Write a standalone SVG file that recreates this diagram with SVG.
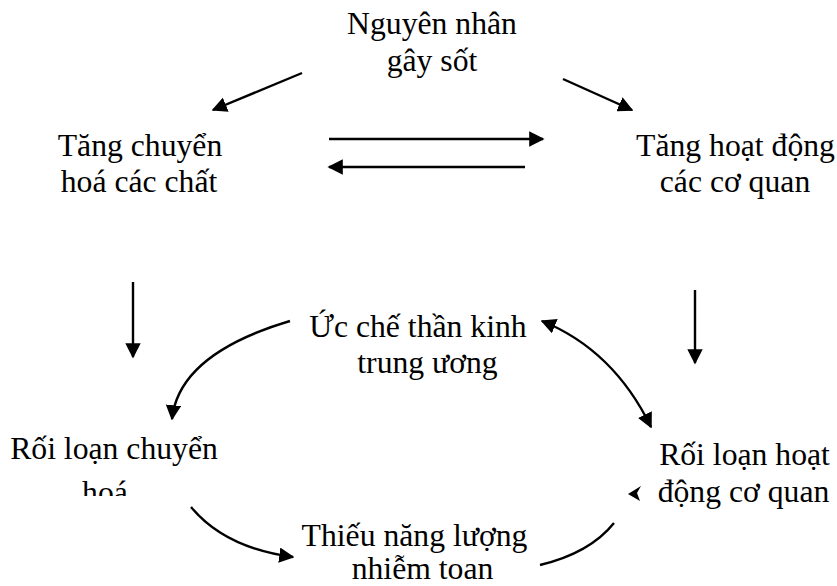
<svg xmlns="http://www.w3.org/2000/svg" width="837" height="586" viewBox="0 0 837 586">
<style>
text{font-family:"Liberation Serif","Times New Roman",serif;font-size:31.7px;fill:#000;text-anchor:middle}
.c{fill:none;stroke:#000;stroke-width:2.4}
</style>
<defs>
<marker id="ah" viewBox="0 0 10 10" refX="9" refY="5" markerWidth="6.4" markerHeight="6.4" markerUnits="strokeWidth" orient="auto-start-reverse">
<path d="M0,0 L10,5 L0,10 z" fill="#000"/>
</marker>
<clipPath id="clipA"><rect x="0" y="0" width="837" height="496"/></clipPath>
</defs>
<rect width="837" height="586" fill="#fff"/>
<g id="n1"><text x="432" y="34">Nguyên nhân</text><text x="432" y="71">gây sốt</text></g>
<g id="n2"><text x="140" y="156">Tăng chuyển</text><text x="139" y="192">hoá các chất</text></g>
<g id="n3"><text x="735.5" y="156">Tăng hoạt động</text><text x="735" y="192">các cơ quan</text></g>
<g id="n4"><text x="418" y="337">Ức chế thần kinh</text><text x="427.5" y="373">trung ương</text></g>
<g id="n5"><text x="114" y="459">Rối loạn chuyển</text><text x="105" y="503" clip-path="url(#clipA)">hoá</text></g>
<g id="n6"><text x="744.5" y="465">Rối loạn hoạt</text><text x="743.5" y="502">động cơ quan</text></g>
<g id="n7"><text x="414.5" y="546">Thiếu năng lượng</text><text x="422.5" y="579">nhiễm toan</text></g>
<g id="connectors">
<line class="c" x1="302" y1="73" x2="213" y2="110" marker-end="url(#ah)"/>
<line class="c" x1="563" y1="79" x2="632" y2="110" marker-end="url(#ah)"/>
<line class="c" x1="329" y1="139" x2="543" y2="139" marker-end="url(#ah)"/>
<line class="c" x1="525" y1="167" x2="329" y2="167" marker-end="url(#ah)"/>
<line class="c" x1="133" y1="282" x2="133" y2="357" marker-end="url(#ah)"/>
<line class="c" x1="695" y1="290" x2="695" y2="363" marker-end="url(#ah)"/>
<path class="c" d="M290,321 Q179,354 172,419" marker-end="url(#ah)"/>
<path class="c" d="M191,507 Q225,548 293,557" marker-end="url(#ah)"/>
<path class="c" d="M540,565 Q590,553 614,523"/>
<path d="M628,494 L641,486 L637,493 L640,501 z" fill="#000"/>
<path class="c" d="M542,321 Q613.5,350 651,427" marker-start="url(#ah)" marker-end="url(#ah)"/>
</g>
</svg>
